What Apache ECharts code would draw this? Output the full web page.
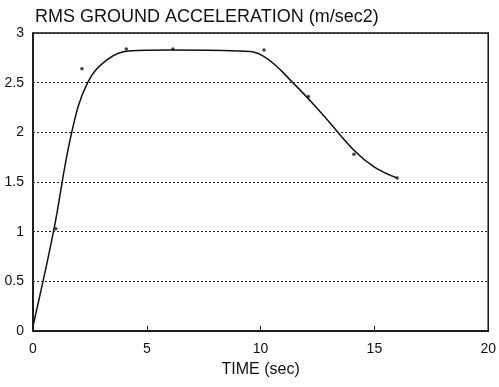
<!DOCTYPE html>
<html>
<head>
<meta charset="utf-8">
<script src="https://cdn.jsdelivr.net/npm/echarts@6/dist/echarts.min.js"></script>
<style>
  html, body { margin: 0; padding: 0; background: #fff; }
  #chart { width: 499px; height: 387px; }
</style>
</head>
<body>
<div id="chart"></div>
<script>
// fitted curve (time sec, m/sec2)
const curveTime = [0, 0.9, 1.7, 2.4, 3.25, 4.2, 6, 9, 10.1, 11.5, 12.8, 14.1, 15, 16];
const curveAcc = [0.05, 1.0, 2.0, 2.5, 2.73, 2.82, 2.83, 2.82, 2.77, 2.48, 2.16, 1.82, 1.65, 1.54];

// measured points
const pointTime = [1.0, 2.15, 4.1, 6.15, 10.15, 12.1, 14.1, 16.0];
const pointAcc = [1.03, 2.64, 2.84, 2.84, 2.83, 2.36, 1.78, 1.54];

const xTicks = [0, 5, 10, 15, 20];
const yTicks = [0, 0.5, 1, 1.5, 2, 2.5, 3];

const font = '"Liberation Sans", Arial, sans-serif';
const chart = echarts.init(document.getElementById('chart'));

chart.setOption({
  animation: false,
  title: {
    text: 'RMS GROUND ACCELERATION (m/sec2)',
    left: 30,
    top: 3,
    textStyle: { fontFamily: font, fontSize: 18, fontWeight: 'normal', color: '#111' }
  },
  grid: { left: 33, right: 7, top: 33, bottom: 56, show: true, borderColor: '#111', borderWidth: 1.5, backgroundColor: 'transparent' },
  xAxis: {
    type: 'value',
    min: xTicks[0],
    max: xTicks[xTicks.length - 1],
    interval: 5,
    name: 'TIME (sec)',
    nameLocation: 'middle',
    nameGap: 31,
    nameTextStyle: { fontFamily: font, fontSize: 16, color: '#111' },
    axisLine: { lineStyle: { color: '#111', width: 1.5 } },
    axisTick: { inside: true, length: 5, lineStyle: { color: '#111' } },
    axisLabel: { margin: 11, fontFamily: font, fontSize: 14, color: '#111' },
    splitLine: { show: false }
  },
  yAxis: {
    type: 'value',
    min: yTicks[0],
    max: yTicks[yTicks.length - 1],
    interval: 0.5,
    axisLine: { show: true, lineStyle: { color: '#111', width: 1.5 } },
    axisTick: { show: false },
    axisLabel: { margin: 9, fontFamily: font, fontSize: 14, color: '#111' },
    splitLine: { lineStyle: { color: '#222', type: [2, 2], width: 1 } }
  },
  series: [
    {
      type: 'line',
      data: curveTime.map((t, i) => [t, curveAcc[i]]),
      smooth: 0.4,
      showSymbol: false,
      lineStyle: { color: '#111', width: 1.5 }
    },
    {
      type: 'scatter',
      data: pointTime.map((t, i) => [t, pointAcc[i]]),
      symbolSize: 3.5,
      itemStyle: { color: '#111' }
    }
  ]
});
</script>
</body>
</html>
